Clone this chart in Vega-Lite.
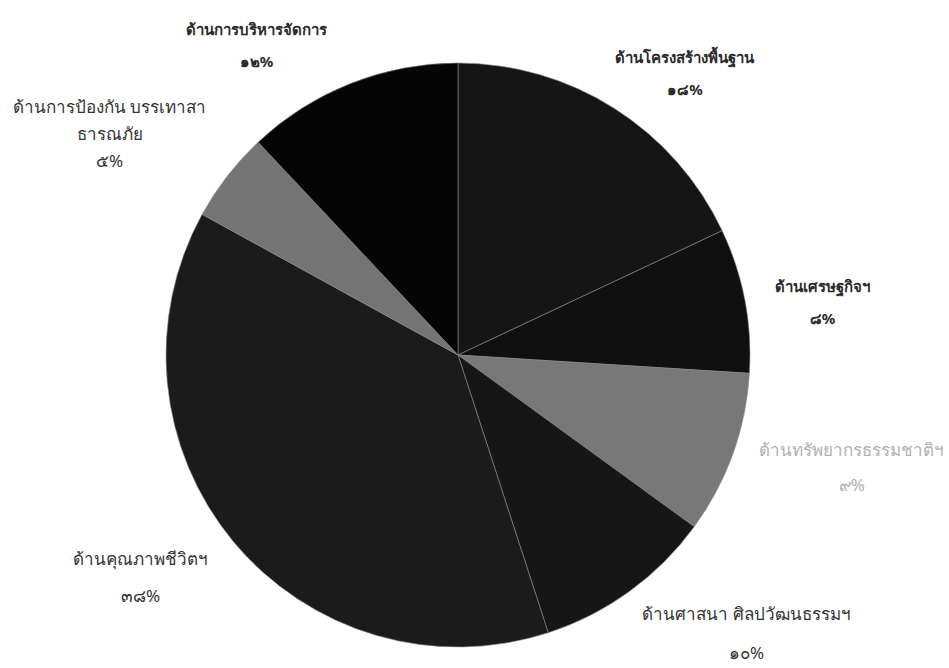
{
  "$schema": "https://vega.github.io/schema/vega-lite/v6.json",
  "width": 916,
  "height": 620,
  "padding": {"left": 0, "top": 45, "right": 33, "bottom": 0},
  "autosize": "none",
  "background": "white",
  "view": {"stroke": null},
  "data": {
    "values": [
      {"idx": 1, "category": "ด้านโครงสร้างพื้นฐาน", "value": 18, "label": "ด้านโครงสร้างพื้นฐาน\n๑๘%"},
      {"idx": 2, "category": "ด้านเศรษฐกิจฯ", "value": 8, "label": "ด้านเศรษฐกิจฯ\n๘%"},
      {"idx": 3, "category": "ด้านทรัพยากรธรรมชาติฯ", "value": 9, "label": "ด้านทรัพยากรธรรมชาติฯ\n๙%"},
      {"idx": 4, "category": "ด้านศาสนา ศิลปวัฒนธรรมฯ", "value": 10, "label": "ด้านศาสนา ศิลปวัฒนธรรมฯ\n๑๐%"},
      {"idx": 5, "category": "ด้านคุณภาพชีวิตฯ", "value": 38, "label": "ด้านคุณภาพชีวิตฯ\n๓๘%"},
      {"idx": 6, "category": "ด้านการป้องกัน บรรเทาสาธารณภัย", "value": 5, "label": "ด้านการป้องกัน บรรเทาสา\nธารณภัย\n๕%"},
      {"idx": 7, "category": "ด้านการบริหารจัดการ", "value": 12, "label": "ด้านการบริหารจัดการ\n๑๒%"}
    ]
  },
  "encoding": {
    "theta": {"field": "value", "type": "quantitative", "stack": true},
    "order": {"field": "idx", "type": "quantitative"}
  },
  "layer": [
    {
      "mark": {"type": "arc", "outerRadius": 292, "stroke": "#8a8a8a", "strokeWidth": 0.6},
      "encoding": {
        "color": {
          "field": "category",
          "type": "nominal",
          "legend": null,
          "scale": {
            "domain": ["ด้านโครงสร้างพื้นฐาน", "ด้านเศรษฐกิจฯ", "ด้านทรัพยากรธรรมชาติฯ", "ด้านศาสนา ศิลปวัฒนธรรมฯ", "ด้านคุณภาพชีวิตฯ", "ด้านการป้องกัน บรรเทาสาธารณภัย", "ด้านการบริหารจัดการ"],
            "range": ["#151515", "#101010", "#787878", "#161616", "#1b1b1b", "#747474", "#050505"]
          }
        }
      }
    },
    {
      "mark": {"type": "text", "radius": 360, "dx": 34, "dy": 7, "lineBreak": "\n", "lineHeight": 32, "fontSize": 15, "fontWeight": "bold", "font": "Noto Sans", "align": "center", "baseline": "middle", "color": "#2a2a2a"},
      "encoding": {"text": {"condition": {"test": "datum.idx == 1", "field": "label"}, "value": ""}}
    },
    {
      "mark": {"type": "text", "radius": 360, "dx": 11, "dy": -1, "lineBreak": "\n", "lineHeight": 32, "fontSize": 15, "fontWeight": "bold", "font": "Noto Sans", "align": "center", "baseline": "middle", "color": "#2a2a2a"},
      "encoding": {"text": {"condition": {"test": "datum.idx == 2", "field": "label"}, "value": ""}}
    },
    {
      "mark": {"type": "text", "radius": 360, "dx": 55, "dy": -26, "lineBreak": "\n", "lineHeight": 35, "fontSize": 17, "font": "Noto Sans", "align": "center", "baseline": "middle", "color": "#b0b0b0"},
      "encoding": {"text": {"condition": {"test": "datum.idx == 3", "field": "label"}, "value": ""}}
    },
    {
      "mark": {"type": "text", "radius": 360, "dx": 77, "dy": -31, "lineBreak": "\n", "lineHeight": 39, "fontSize": 17, "font": "Noto Sans", "align": "center", "baseline": "middle", "color": "#333333"},
      "encoding": {"text": {"condition": {"test": "datum.idx == 4", "field": "label"}, "value": ""}}
    },
    {
      "mark": {"type": "text", "radius": 360, "dx": -40, "dy": -24, "lineBreak": "\n", "lineHeight": 37, "fontSize": 17, "font": "Noto Sans", "align": "center", "baseline": "middle", "color": "#333333"},
      "encoding": {"text": {"condition": {"test": "datum.idx == 5", "field": "label"}, "value": ""}}
    },
    {
      "mark": {"type": "text", "radius": 360, "dx": -64, "dy": -26, "lineBreak": "\n", "lineHeight": 27, "fontSize": 17, "font": "Noto Sans", "align": "center", "baseline": "middle", "color": "#333333"},
      "encoding": {"text": {"condition": {"test": "datum.idx == 6", "field": "label"}, "value": ""}}
    },
    {
      "mark": {"type": "text", "radius": 360, "dx": -69, "dy": 10, "lineBreak": "\n", "lineHeight": 32, "fontSize": 15, "fontWeight": "bold", "font": "Noto Sans", "align": "center", "baseline": "middle", "color": "#2a2a2a"},
      "encoding": {"text": {"condition": {"test": "datum.idx == 7", "field": "label"}, "value": ""}}
    }
  ]
}
